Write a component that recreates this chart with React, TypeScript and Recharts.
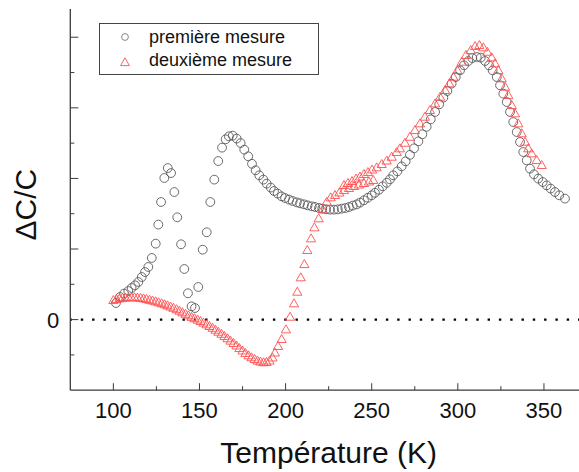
import React from "react";
import { ScatterChart, Scatter, XAxis, YAxis, ReferenceLine, Legend } from "recharts";

// ΔC/C vs température — deux mesures (cercles / triangles)

const FONT = '"Liberation Sans", Arial, Helvetica, sans-serif';
const AXIS = "#3a3a3a";

// première mesure (cercles)
const premiereT = [
  101.5, 103.9, 106.2, 108.7, 110.6, 112.6, 114.5, 116.5, 118.4, 120.3,
  122.3, 124.6, 126.1, 127.7, 129.6, 131.6, 133.5, 135.4, 137.1, 139.3,
  141.2, 143.3, 145.4, 147.4, 149.3, 151.9, 154.2, 156.3, 158.6, 160.9,
  163.1, 165.2, 167.1, 169.3, 171.6, 173.9, 176.0, 178.3, 180.5, 182.6,
  184.7, 187.1, 189.0, 191.4, 193.3, 195.4, 197.7, 199.7, 202.0, 204.1,
  206.5, 208.4, 210.7, 212.8, 215.2, 217.1, 219.4, 221.3, 223.5, 225.8,
  228.1, 230.3, 232.6, 234.7, 236.8, 239.0, 241.3, 243.2, 245.5, 247.7,
  250.0, 251.9, 254.2, 256.4, 258.7, 260.6, 262.5, 264.9, 267.4, 269.7,
  272.2, 274.6, 277.1, 279.4, 281.9, 284.3, 286.8, 289.2, 291.6, 293.9,
  296.4, 298.8, 301.3, 303.6, 306.1, 308.4, 311.0, 313.3, 315.8, 318.1,
  320.2, 322.6, 324.5, 326.4, 328.4, 330.3, 332.2, 334.2, 336.1, 338.0,
  340.0, 341.9, 344.2, 346.7, 349.3, 351.6, 353.9, 356.4, 358.9, 362.2,
];
const premiereV = [
  0.235, 0.32, 0.368, 0.405, 0.448, 0.486, 0.533, 0.603, 0.674, 0.745,
  0.873, 1.076, 1.346, 1.666, 2.006, 2.147, 2.076, 1.807, 1.449, 1.067,
  0.717, 0.373, 0.188, 0.164, 0.462, 0.991, 1.237, 1.666, 1.983, 2.246,
  2.436, 2.554, 2.596, 2.606, 2.564, 2.501, 2.408, 2.313, 2.207, 2.115,
  2.044, 1.983, 1.926, 1.87, 1.822, 1.785, 1.746, 1.722, 1.7, 1.68,
  1.661, 1.647, 1.633, 1.619, 1.605, 1.595, 1.581, 1.572, 1.562, 1.558,
  1.558, 1.562, 1.572, 1.581, 1.595, 1.615, 1.633, 1.657, 1.69, 1.725,
  1.761, 1.796, 1.839, 1.888, 1.938, 1.987, 2.044, 2.1, 2.171, 2.242,
  2.334, 2.426, 2.525, 2.625, 2.731, 2.837, 2.941, 3.05, 3.144, 3.238,
  3.343, 3.436, 3.531, 3.602, 3.663, 3.705, 3.72, 3.711, 3.663, 3.602,
  3.531, 3.436, 3.319, 3.201, 3.082, 2.941, 2.799, 2.657, 2.516, 2.374,
  2.256, 2.139, 2.058, 1.997, 1.949, 1.902, 1.856, 1.807, 1.761, 1.714,
];

// deuxième mesure (triangles) — montée jusqu'à ~251 K puis reprise vers 234 K
const deuxiemeT = [
  100.0, 101.8, 103.6, 105.3, 107.0, 108.8, 110.5, 112.3, 114.0, 115.8,
  117.5, 119.2, 121.0, 122.7, 124.5, 126.2, 128.0, 129.7, 131.4, 133.2,
  134.9, 136.7, 138.4, 140.1, 141.9, 143.6, 145.4, 147.1, 148.9,
  150.6, 152.3, 154.1, 155.8, 157.6, 159.3, 161.0, 162.8, 164.5, 166.3,
  168.0, 169.8, 171.5, 173.2, 175.0, 176.7, 178.5, 180.2, 182.0, 183.7,
  185.4, 187.2, 188.9, 190.7, 192.4, 193.8, 195.6, 197.7, 200.2, 202.6,
  204.9, 206.8, 208.8, 210.9, 212.6, 214.8, 216.7, 219.2, 221.5, 223.9,
  226.2, 228.7, 231.2, 233.9, 236.8, 239.7, 242.6, 245.5, 248.4, 250.9,
  233.9, 236.2, 238.6, 240.9, 243.2, 245.5, 247.8, 250.2, 252.9, 255.8,
  258.7, 261.6, 264.5, 266.4, 269.3, 272.2, 275.1, 278.0, 280.9, 283.8,
  286.8, 289.7, 292.6, 295.1, 297.4, 299.7, 302.3, 304.7, 307.5, 310.0,
  312.5, 314.8, 317.1, 319.7, 321.6, 323.5, 325.5, 327.4, 329.3, 331.3,
  333.2, 335.1, 337.1, 339.0, 340.9, 342.9, 345.8, 348.7,
];
const deuxiemeV = [
  0.273, 0.288, 0.297, 0.305, 0.309, 0.312, 0.313, 0.312, 0.309, 0.305,
  0.297, 0.288, 0.276, 0.266, 0.255, 0.242, 0.228, 0.214, 0.198, 0.181,
  0.163, 0.143, 0.122, 0.099, 0.078, 0.057, 0.035, 0.016, -0.004,
  -0.024, -0.047, -0.071, -0.095, -0.12, -0.147, -0.176, -0.205, -0.237, -0.269,
  -0.302, -0.336, -0.371, -0.407, -0.442, -0.477, -0.51, -0.538, -0.562, -0.584,
  -0.598, -0.608, -0.605, -0.584, -0.541, -0.47, -0.378, -0.279, -0.142, 0.037,
  0.227, 0.391, 0.595, 0.783, 0.982, 1.147, 1.303, 1.431, 1.558, 1.666,
  1.728, 1.761, 1.796, 1.831, 1.86, 1.888, 1.909, 1.931, 1.952, 1.973,
  1.902, 1.931, 1.959, 1.994, 2.023, 2.058, 2.086, 2.122, 2.153, 2.2,
  2.249, 2.303, 2.37, 2.422, 2.501, 2.586, 2.681, 2.776, 2.87, 2.965,
  3.059, 3.153, 3.248, 3.343, 3.436, 3.531, 3.649, 3.744, 3.814, 3.871,
  3.885, 3.853, 3.79, 3.711, 3.626, 3.531, 3.414, 3.295, 3.177, 3.035,
  2.918, 2.776, 2.635, 2.516, 2.422, 2.351, 2.256, 2.186,
];

const xTicks = [100, 125, 150, 175, 200, 225, 250, 275, 300, 325, 350];
const xLabels = [100, 150, 200, 250, 300, 350];
const yTicks = [-0.5, 0, 0.5, 1, 1.5, 2, 2.5, 3, 3.5, 4];
const yLabels = [0];

const premiere = premiereT.map((t, i) => ({ t, v: premiereV[i] }));
const deuxieme = deuxiemeT.map((t, i) => ({ t, v: deuxiemeV[i] }));

const xMajor = (v: number) => v % 50 === 0;
const yMajor = (v: number) => Number.isInteger(v);

// ticks point inward, like the original plot
function BottomTick({ x, y, payload }: any) {
  const v = payload.value;
  return (
    <g>
      <line x1={x} x2={x} y1={y} y2={y - (xMajor(v) ? 7 : 4)} stroke={AXIS} />
      {xLabels.includes(v) && (
        <text x={x} y={y + 28} textAnchor="middle" fontSize={22} fontFamily={FONT} fill="#111">
          {v}
        </text>
      )}
    </g>
  );
}

function TopTick({ x, y, payload }: any) {
  const v = payload.value;
  return <line x1={x} x2={x} y1={y} y2={y + (xMajor(v) ? 7 : 4)} stroke={AXIS} />;
}

function LeftTick({ x, y, payload }: any) {
  const v = payload.value;
  return (
    <g>
      <line x1={x} x2={x + (yMajor(v) ? 8 : 4)} y1={y} y2={y} stroke={AXIS} />
      {yLabels.includes(v) && (
        <text x={x - 11} y={y + 8} textAnchor="end" fontSize={22} fontFamily={FONT} fill="#111">
          {v}
        </text>
      )}
    </g>
  );
}

function RightTick({ x, y, payload }: any) {
  const v = payload.value;
  return <line x1={x} x2={x - (yMajor(v) ? 8 : 4)} y1={y} y2={y} stroke="#777" />;
}

const Ring = ({ cx, cy }: any) => (
  <circle cx={cx} cy={cy} r={4.4} fill="none" stroke="#5a5a5a" strokeWidth={0.9} />
);

const Tri = ({ cx, cy }: any) => (
  <polygon
    points={`${cx},${cy - 4.8} ${cx - 4.6},${cy + 3.2} ${cx + 4.6},${cy + 3.2}`}
    fill="none"
    stroke="#ff5050"
    strokeWidth={0.9}
  />
);

function LegendBox() {
  return (
    <div
      style={{
        width: 218,
        height: 50,
        border: "1px solid #444",
        background: "#fff",
        position: "relative",
        fontFamily: FONT,
        fontSize: 18,
        color: "#111",
      }}
    >
      <svg style={{ position: "absolute", left: 19, top: 7 }} width={12} height={12}>
        <circle cx={6} cy={6} r={3.4} fill="none" stroke="#777" strokeWidth={0.9} />
      </svg>
      <span style={{ position: "absolute", left: 49, top: 3, lineHeight: "20px", whiteSpace: "nowrap" }}>
        première mesure
      </span>
      <svg style={{ position: "absolute", left: 19, top: 32 }} width={12} height={12}>
        <polygon points="6,1.8 1.6,9.6 10.4,9.6" fill="none" stroke="#ff5050" strokeWidth={0.9} />
      </svg>
      <span style={{ position: "absolute", left: 49, top: 25.7, lineHeight: "20px", whiteSpace: "nowrap" }}>
        deuxième mesure
      </span>
    </div>
  );
}

export default function App() {
  return (
    <div
      style={{
        position: "absolute",
        left: 0,
        top: 0,
        width: 579,
        height: 472,
        overflow: "hidden",
        background: "#fff",
      }}
    >
      <ScatterChart width={600} height={472} margin={{ top: 9, right: 13, bottom: 21.8, left: 10.3 }}>
        <XAxis
          xAxisId="b"
          type="number"
          dataKey="t"
          domain={[75, 375]}
          ticks={xTicks}
          interval={0}
          allowDataOverflow
          tickSize={0}
          tickMargin={0}
          tickLine={false}
          tick={(p: any) => <BottomTick {...p} />}
          axisLine={{ stroke: AXIS, strokeWidth: 1.3 }}
          height={60}
          label={{
            content: ({ viewBox }: any) => (
              <text
                x={viewBox.x + viewBox.width / 2}
                y={viewBox.y + 73}
                textAnchor="middle"
                fontSize={30}
                fontFamily={FONT}
                fill="#111"
              >
                Température (K)
              </text>
            ),
          }}
        />
        <XAxis
          xAxisId="top"
          orientation="top"
          type="number"
          domain={[75, 375]}
          ticks={xTicks}
          interval={0}
          allowDataOverflow
          tickSize={0}
          tickMargin={0}
          tickLine={false}
          tick={(p: any) => <TopTick {...p} />}
          axisLine={{ stroke: "#555", strokeWidth: 1.1 }}
          height={0}
        />
        <YAxis
          yAxisId="l"
          type="number"
          dataKey="v"
          domain={[-1, 4.4]}
          ticks={yTicks}
          interval={0}
          allowDataOverflow
          tickSize={0}
          tickMargin={0}
          tickLine={false}
          tick={(p: any) => <LeftTick {...p} />}
          axisLine={{ stroke: AXIS, strokeWidth: 1.3 }}
          width={60}
          label={{
            content: ({ viewBox }: any) => (
              <text
                transform={`translate(${viewBox.x + 25.7},${viewBox.y + viewBox.height / 2 + 5}) rotate(-90)`}
                textAnchor="middle"
                fontSize={30}
                fontFamily={FONT}
                fill="#111"
              >
                ΔC/C
              </text>
            ),
          }}
        />
        <YAxis
          yAxisId="r"
          orientation="right"
          type="number"
          domain={[-1, 4.4]}
          ticks={yTicks}
          interval={0}
          allowDataOverflow
          tickSize={0}
          tickMargin={0}
          tickLine={false}
          tick={(p: any) => <RightTick {...p} />}
          axisLine={{ stroke: "#555" }}
          width={0}
        />
        <ReferenceLine
          xAxisId="b"
          yAxisId="l"
          y={0}
          stroke="#000"
          strokeWidth={2.2}
          strokeDasharray="2.4 8.9"
          strokeDashoffset={0.8}
        />
        <Scatter
          name="première mesure"
          xAxisId="b"
          yAxisId="l"
          data={premiere}
          shape={Ring}
          isAnimationActive={false}
        />
        <Scatter
          name="deuxième mesure"
          xAxisId="b"
          yAxisId="l"
          data={deuxieme}
          shape={Tri}
          isAnimationActive={false}
        />
        <Legend
          layout="vertical"
          align="center"
          verticalAlign="middle"
          content={() => <LegendBox />}
          wrapperStyle={{ left: 99, top: 23, width: 220, height: 52 }}
        />
      </ScatterChart>
    </div>
  );
}
